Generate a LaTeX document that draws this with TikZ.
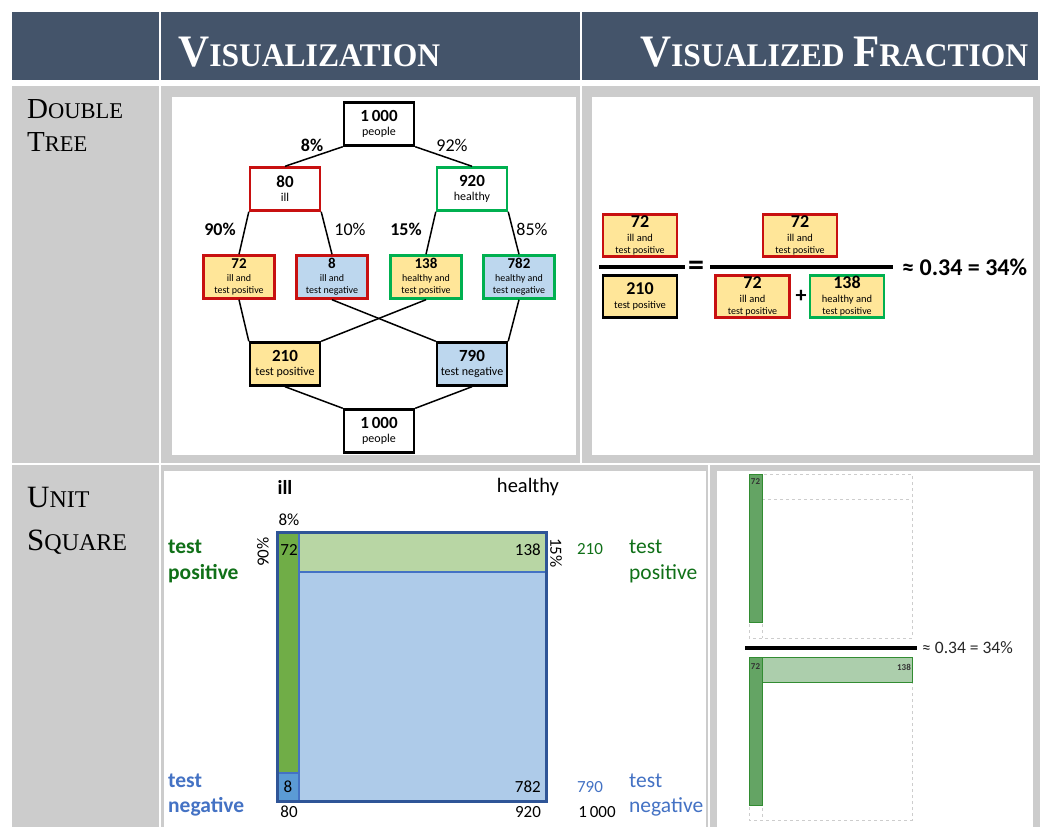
\documentclass[tikz,border=0pt]{standalone}
\usepackage{fontspec}
\usepackage{graphicx}
\setmainfont{Carlito}
\newfontfamily\headserif{Liberation Serif}
\usetikzlibrary{positioning}

\definecolor{hdr}{RGB}{68,84,106}
\definecolor{cellgray}{RGB}{204,204,204}
\definecolor{illred}{RGB}{200,16,16}
\definecolor{okgreen}{RGB}{0,176,80}
\definecolor{posyellow}{RGB}{255,230,153}
\definecolor{negblue}{RGB}{189,215,238}
\definecolor{txtgreen}{RGB}{16,112,24}
\definecolor{txtblue}{RGB}{68,114,196}
\definecolor{sqframe}{RGB}{47,85,151}
\definecolor{sqinner}{RGB}{68,114,196}
\definecolor{sqillpos}{RGB}{112,173,71}
\definecolor{sqillneg}{RGB}{91,155,213}
\definecolor{sqhpos}{RGB}{184,214,164}
\definecolor{sqhneg}{RGB}{174,203,233}
\definecolor{barfill}{RGB}{100,164,100}
\definecolor{barline}{RGB}{50,140,50}
\definecolor{barlight}{RGB}{172,206,172}
\definecolor{dashgray}{RGB}{205,205,205}

% small caps faked with two sizes
\newcommand\capsword[4]{{\fontsize{#3}{#3}\selectfont #1}{\fontsize{#4}{#4}\selectfont #2}}
% number over caption, for the three box sizes
\newcommand\treetext[2]{{\bfseries\fontsize{17}{17}\selectfont #1}\\[2pt]\fontsize{12}{13}\selectfont #2}
\newcommand\leaftext[2]{{\bfseries\fontsize{15}{15}\selectfont #1}\\[1pt]\fontsize{10}{10.5}\selectfont #2}
\newcommand\fractext[2]{{\bfseries\fontsize{18}{18}\selectfont #1}\\[2pt]\fontsize{10.5}{10.5}\selectfont #2}

\tikzset{
  treebox/.style={draw, line width=2.4pt, align=center, inner sep=0pt,
    minimum width=70, minimum height=43},
  leafbox/.style={treebox, minimum width=71},
  blackbox/.style={draw=black},
  redbox/.style={draw=illred},
  greenbox/.style={draw=okgreen},
  yellowfill/.style={fill=posyellow},
  bluefill/.style={fill=negblue},
  branch/.style={line width=1.5pt, black},
  pct/.style={font=\fontsize{18}{18}\selectfont, inner sep=0pt},
  pctbold/.style={pct, font=\bfseries\fontsize{18}{18}\selectfont},
  fracbox/.style={draw, line width=2.4pt, align=center, inner sep=0pt,
    minimum width=74, minimum height=42, fill=posyellow},
  fracline/.style={line width=3.2pt, black},
  sqnum/.style={font=\fontsize{17}{17}\selectfont, inner sep=0pt},
  sqlabel/.style={font=\fontsize{21.5}{26}\selectfont, align=left, inner sep=0pt, anchor=north west},
  dashbox/.style={draw=dashgray, dash pattern=on 3pt off 3pt, line width=0.8pt},
  bar/.style={fill=barfill, draw=barline, line width=0.8pt},
  smallnum/.style={font=\bfseries\fontsize{9}{9}\selectfont, inner sep=0pt, text=black!80},
}

\begin{document}
\begin{tikzpicture}[x=1pt,y=-1pt]
\useasboundingbox (0,0) rectangle (1046,827);
\fill[white] (0,0) rectangle (1046,827);

% ---------- header band ----------
\fill[hdr] (12,12) rectangle (1038,80);
\draw[white, line width=1.5pt] (160,12) -- (160,80);
\draw[white, line width=1.5pt] (581,12) -- (581,80);
\node[anchor=west, text=white, inner sep=0pt] (hvis) at (178,52)
  {\resizebox{262pt}{\height}{\headserif\bfseries\capsword{V}{ISUALIZATION}{45}{33}}};
\node[anchor=west, text=white, inner sep=0pt] (hfrac) at (640,52)
  {\resizebox{388pt}{\height}{\headserif\bfseries\capsword{V}{ISUALIZED}{45}{33}\hspace{9pt}\capsword{F}{RACTION}{45}{33}}};

% ---------- cell backgrounds ----------
\fill[cellgray] (12,86) rectangle (159,463);
\fill[cellgray] (161,86) rectangle (580,463);
\fill[cellgray] (582,86) rectangle (1040,463);
\fill[white] (172,97) rectangle (576,455);
\fill[white] (592,97) rectangle (1033,455);
\fill[cellgray] (12,465) rectangle (159,827);
\fill[cellgray] (161,465) rectangle (708,827);
\fill[cellgray] (710,465) rectangle (1040,827);
\fill[white] (164,471) rectangle (706,827);
\fill[white] (717,471) rectangle (1033,827);

% ---------- row titles ----------
\node[anchor=base west, inner sep=0pt] (rdouble) at (27,118) {\headserif\capsword{D}{OUBLE}{29}{22.5}};
\node[anchor=base west, inner sep=0pt] (rtree) at (27,151) {\headserif\capsword{T}{REE}{29}{22.5}};
\node[anchor=base west, inner sep=0pt] (runit) at (27,507) {\headserif\capsword{U}{NIT}{31}{24}};
\node[anchor=base west, inner sep=0pt] (rsquare) at (27,550) {\headserif\capsword{S}{QUARE}{31}{24}};

% ---------- double tree ----------
\node[treebox, blackbox] (top) at (379,124) {\treetext{1\,000}{people}};
\node[treebox, redbox] (ill) at (285,189) {\treetext{80}{ill}};
\node[treebox, greenbox] (healthy) at (472,189) {\treetext{920}{healthy}};
\node[leafbox, redbox, yellowfill] (ipos) at (239,277) {\leaftext{72}{ill and\\test positive}};
\node[leafbox, redbox, bluefill] (ineg) at (332,277) {\leaftext{8}{ill and\\test negative}};
\node[leafbox, greenbox, yellowfill] (hpos) at (426,277) {\leaftext{138}{healthy and\\test positive}};
\node[leafbox, greenbox, bluefill] (hneg) at (519,277) {\leaftext{782}{healthy and\\test negative}};
\node[treebox, blackbox, yellowfill] (pos) at (285,364) {\treetext{210}{test positive}};
\node[treebox, blackbox, bluefill] (neg) at (472,364) {\treetext{790}{test negative}};
\node[treebox, blackbox] (bot) at (379,431) {\treetext{1\,000}{people}};

\draw[branch] (top.south west) -- (ill.north);
\draw[branch] (top.south east) -- (healthy.north);
\draw[branch] (ill.south west) -- (ipos.north);
\draw[branch] (ill.south east) -- (ineg.north);
\draw[branch] (healthy.south west) -- (hpos.north);
\draw[branch] (healthy.south east) -- (hneg.north);
\draw[branch] (ipos.south) -- (pos.north west);
\draw[branch] (hpos.south) -- (pos.north east);
\draw[branch] (ineg.south) -- (neg.north west);
\draw[branch] (hneg.south) -- (neg.north east);
\draw[branch] (pos.south) -- (bot.north west);
\draw[branch] (neg.south) -- (bot.north east);

\node[pctbold] (p8) at (312,145) {8\%};
\node[pct] (p92) at (452,145) {92\%};
\node[pctbold] (p90) at (220,229) {90\%};
\node[pct] (p10) at (350,229) {10\%};
\node[pctbold] (p15) at (406,229) {15\%};
\node[pct] (p85) at (532,229) {85\%};

% ---------- fraction from the tree ----------
\node[fracbox, redbox] (fa) at (640,235.5) {\fractext{72}{ill and\\test positive}};
\node[fracbox, blackbox] (fb) at (640,296.5) {\fractext{210}{test positive}};
\draw[fracline] (599,267) -- (685,267);
\node[font=\bfseries\fontsize{32}{32}\selectfont, inner sep=0pt] (feq) at (696,268) {=};
\draw[fracline] (710,267) -- (893,267);
\node[fracbox, redbox] (fc) at (800,235.5) {\fractext{72}{ill and\\test positive}};
\node[fracbox, redbox] (fd) at (752.5,296.5) {\fractext{72}{ill and\\test positive}};
\node[font=\bfseries\fontsize{22}{22}\selectfont, inner sep=0pt] (fplus) at (801,296) {+};
\node[fracbox, greenbox] (fe) at (847,296.5) {\fractext{138}{healthy and\\test positive}};
\node[anchor=west, font=\bfseries\fontsize{24}{24}\selectfont, inner sep=0pt] (fres) at (902,267) {≈ 0.34 = 34\%};

% ---------- unit square ----------
\fill[sqillpos] (277,532) rectangle (299,773);
\fill[sqillneg] (277,773) rectangle (299,801);
\fill[sqhpos] (299,532) rectangle (546,572);
\fill[sqhneg] (299,572) rectangle (546,801);
\draw[sqinner, line width=1.2pt] (299,532) -- (299,801);
\draw[sqinner, line width=1.2pt] (277,773) -- (299,773);
\draw[sqinner, line width=1.2pt] (299,572) -- (546,572);
\draw[sqframe, line width=3pt] (277,532) rectangle (546,801);

\node[font=\bfseries\fontsize{20}{20}\selectfont, inner sep=0pt] (cill) at (285,487) {ill};
\node[font=\fontsize{20.5}{20}\selectfont, inner sep=0pt] (chealthy) at (528,487) {healthy};
\node[sqnum] (s8p) at (289,520) {8\%};
\node[sqnum] (s72) at (289,550) {72};
\node[sqnum, anchor=east] (s138) at (541,550) {138};
\node[sqnum] (s8) at (288,787) {8};
\node[sqnum, anchor=east] (s782) at (541,787) {782};
\node[sqnum] (s80) at (289,812) {80};
\node[sqnum] (s920) at (528,812) {920};
\node[sqnum, text=txtgreen] (s210) at (590,549) {210};
\node[sqnum, text=txtblue] (s790) at (590,787) {790};
\node[sqnum] (s1000) at (597,812) {1\,000};
\node[sqnum, rotate=90] (s90p) at (263,552) {90\%};
\node[sqnum, rotate=-90] (s15p) at (556,553) {15\%};

\node[sqlabel, text=txtgreen, font=\bfseries\fontsize{21.5}{26}\selectfont] (lpos) at (168,540) {test\\positive};
\node[sqlabel, text=txtblue, font=\bfseries\fontsize{21.5}{25}\selectfont] (lneg) at (168,774) {test\\negative};
\node[sqlabel, text=txtgreen] (rpos) at (629,540) {test\\positive};
\node[sqlabel, text=txtblue, font=\fontsize{21.5}{25}\selectfont] (rneg) at (629,774) {test\\negative};

% ---------- unit square fraction ----------
\draw[dashbox] (749,474) rectangle (912,638);
\draw[dashbox] (762,499) -- (912,499);
\draw[dashbox] (762,474) -- (762,638);
\draw[bar] (749,474) rectangle (762,622);
\node[smallnum] (u72a) at (755.5,482) {72};

\draw[fracline] (745,648) -- (917,648);
\node[anchor=west, font=\fontsize{17.5}{17.5}\selectfont, inner sep=0pt, text=black!85] (ures) at (922,648) {≈ 0.34 = 34\%};

\draw[dashbox] (749,657) rectangle (912,820);
\draw[dashbox] (762,682) -- (762,820);
\draw[bar] (749,657) rectangle (762,805);
\draw[bar, fill=barlight] (762,657) rectangle (912,682);
\node[smallnum] (u72b) at (755.5,667) {72};
\node[smallnum, anchor=east] (u138) at (911,667) {138};

\end{tikzpicture}
\end{document}
